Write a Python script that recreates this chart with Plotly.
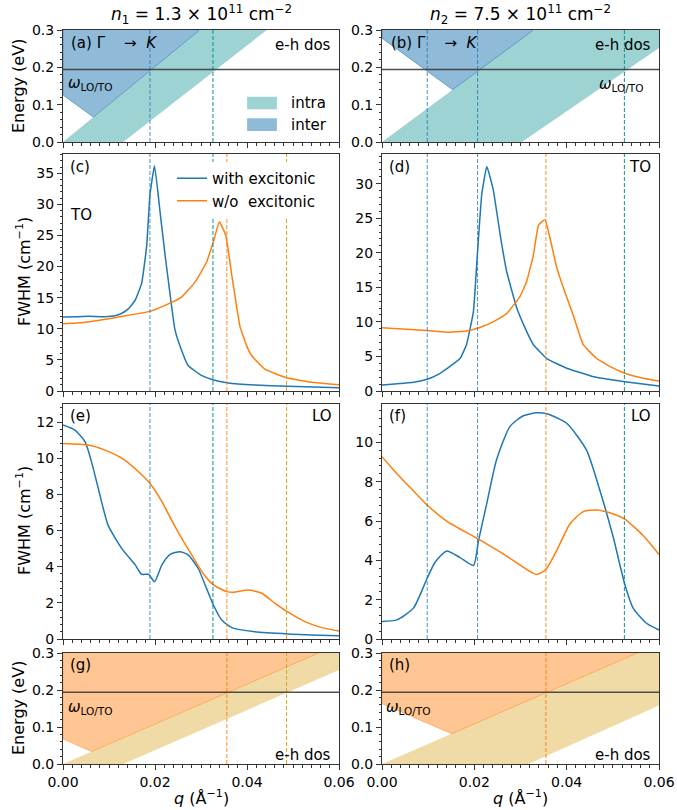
import plotly.graph_objects as go

# ---------------- data ----------------
# TO phonon FWHM, n1 (panel c)
c_with_q = [0, 0.003, 0.0055, 0.009, 0.0113, 0.0128, 0.0142, 0.0157, 0.0171, 0.0182, 0.0189, 0.0199, 0.0211,
            0.0222, 0.0233, 0.0243, 0.0254, 0.0272, 0.0301, 0.0327, 0.0359, 0.0417, 0.0489, 0.06]
c_with_y = [11.9, 11.95, 12.0, 11.95, 12.1, 12.5, 13.2, 14.6, 17.3, 23.4, 31.5, 36.2, 28.8,
            21.8, 15.4, 10.0, 7.3, 4.1, 2.5, 1.77, 1.3, 0.97, 0.75, 0.53]
c_wo_q = [0, 0.0055, 0.0128, 0.0189, 0.0229, 0.0258, 0.0287, 0.0312, 0.0327, 0.034, 0.0354, 0.0367, 0.0385,
          0.0399, 0.041, 0.0439, 0.0483, 0.0533, 0.06]
c_wo_y = [10.8, 11.1, 12.0, 12.8, 14.0, 15.1, 17.5, 20.7, 24.0, 27.2, 25.0, 18.6, 10.3,
          7.3, 5.7, 3.5, 2.2, 1.5, 1.0]

# TO phonon FWHM, n2 (panel d)
d_with_q = [0, 0.0068, 0.0098, 0.0126, 0.014, 0.0169, 0.0183, 0.0198, 0.0207, 0.0216, 0.0227, 0.0241, 0.0256,
            0.027, 0.0292, 0.031, 0.0328, 0.0357, 0.04, 0.0458, 0.0526, 0.06]
d_with_y = [0.87, 1.26, 1.7, 2.56, 3.2, 4.7, 6.7, 11.5, 20.2, 28.4, 32.5, 29.1, 22.6,
            17.3, 12.0, 9.1, 6.7, 4.7, 3.3, 2.07, 1.35, 0.72]
d_wo_q = [0, 0.0097, 0.014, 0.0183, 0.0212, 0.0241, 0.027, 0.0299, 0.0313, 0.0328, 0.0339, 0.0353, 0.0364,
          0.0378, 0.0393, 0.0414, 0.0436, 0.0465, 0.0501, 0.0526, 0.0566, 0.06]
d_wo_y = [9.17, 8.74, 8.5, 8.7, 9.2, 10.0, 11.2, 13.7, 15.8, 19.7, 24.0, 24.8, 22.1,
          18.0, 14.9, 11.0, 6.7, 4.7, 3.3, 2.56, 1.84, 1.45]

# LO phonon FWHM, n1 (panel e)
e_with_q = [0, 0.0026, 0.0048, 0.0062, 0.0077, 0.0098, 0.0128, 0.0157, 0.0171, 0.0186, 0.0199, 0.0215, 0.0233,
            0.0254, 0.0272, 0.0294, 0.0312, 0.0327, 0.0345, 0.0367, 0.0417, 0.049, 0.06]
e_with_y = [11.84, 11.56, 10.9, 9.8, 8.3, 6.3, 5.0, 4.1, 3.58, 3.58, 3.17, 4.1, 4.68,
            4.83, 4.65, 3.9, 2.8, 1.88, 1.05, 0.63, 0.4, 0.28, 0.18]
e_wo_q = [0, 0.0055, 0.0091, 0.0128, 0.0164, 0.0189, 0.0215, 0.0236, 0.0258, 0.028, 0.0302, 0.0327, 0.0356,
          0.037, 0.0403, 0.0432, 0.0461, 0.0485, 0.0526, 0.0562, 0.06]
e_wo_y = [10.82, 10.73, 10.45, 10.0, 9.25, 8.6, 7.6, 6.58, 5.57, 4.65, 3.72, 2.99, 2.62,
          2.58, 2.71, 2.53, 1.97, 1.55, 0.96, 0.63, 0.44]

# LO phonon FWHM, n2 (panel f)
f_with_q = [0, 0.0032, 0.0068, 0.0098, 0.0115, 0.014, 0.0169, 0.0198, 0.0209, 0.0227, 0.0248, 0.0277, 0.0306,
            0.0335, 0.0357, 0.04, 0.0443, 0.0472, 0.0501, 0.0526, 0.0544, 0.0573, 0.06]
f_with_y = [0.89, 0.97, 1.57, 3.1, 3.9, 4.48, 4.14, 3.74, 5.0, 6.9, 9.1, 10.8, 11.35,
            11.5, 11.45, 10.97, 9.6, 7.55, 5.16, 2.77, 1.57, 0.8, 0.46]
f_wo_q = [0, 0.0025, 0.0061, 0.0098, 0.014, 0.0209, 0.027, 0.0313, 0.0335, 0.0355, 0.0378, 0.0407, 0.0436,
          0.0465, 0.0501, 0.0526, 0.0566, 0.06]
f_wo_y = [9.27, 8.6, 7.7, 6.8, 6.0, 5.08, 4.22, 3.54, 3.28, 3.54, 4.48, 5.85, 6.48,
          6.56, 6.36, 6.1, 5.25, 4.3]

# e-h continua (energy in eV vs q)
a_intra_q = [0, 0.0297, 0.0443, 0.0131]
a_intra_E = [0, 0.3, 0.3, 0]
a_inter_q = [0, 0, 0.0066, 0.0297]
a_inter_E = [0.3, 0.126, 0.0667, 0.3]
b_intra_q = [0, 0.0328, 0.06, 0.06, 0.0303]
b_intra_E = [0, 0.3, 0.3, 0.252, 0]
b_inter_q = [0, 0, 0.0153, 0.0328]
b_inter_E = [0.3, 0.278, 0.140, 0.3]
g_intra_q = [0, 0.0556, 0.06, 0.06, 0.0131]
g_intra_E = [0, 0.3, 0.3, 0.254, 0]
g_inter_q = [0, 0, 0.0062, 0.0556]
g_inter_E = [0.3, 0.068, 0.0335, 0.3]
h_intra_q = [0, 0.0553, 0.06, 0.06, 0.0317]
h_intra_E = [0, 0.3, 0.3, 0.158, 0]
h_inter_q = [0, 0, 0.0151, 0.0553]
h_inter_E = [0.3, 0.163, 0.0819, 0.3]

omega_LO_TO = 0.194  # eV

# crossing wavevectors (vertical dashed lines)
left_blue_q = [0.0189]
left_teal_q = [0.0326]
left_orange_q = [0.0356]
left_gold_q = [0.0486]
right_blue_q = [0.0098, 0.0207]
right_teal_q = [0.0525]
right_orange_q = [0.0355]

x_ticks = [0, 0.02, 0.04, 0.06]
x_ticklabels = ["0.00", "0.02", "0.04", "0.06"]

# ---------------- layout helpers ----------------
W, H = 677, 810
FONT = "DejaVu Sans"
def px(x): return x / W
def py(y): return 1 - y / H

XCOL = [(63, 339), (382, 659)]
YROW = [(30, 142), (154, 391), (404, 639), (653, 764)]
YRANGE = {1: [0, 0.3], 2: [0, 0.3], 3: [0, 38.1], 4: [0, 34.3], 5: [0, 13.0], 6: [0, 11.95], 7: [0, 0.3], 8: [0, 0.3]}
YDTICK = {1: 0.1, 2: 0.1, 3: 5, 4: 5, 5: 2, 6: 2, 7: 0.1, 8: 0.1}
YMINOR = {1: 0.02, 2: 0.02, 3: 1, 4: 1, 5: 0.4, 6: 0.4, 7: 0.02, 8: 0.02}

C0 = '#1f77b4'
C1 = '#ff7f0e'
INTRA_A = 'rgba(0,139,139,0.38)'
INTER_A = 'rgba(31,119,180,0.5)'
INTRA_G = 'rgba(218,165,32,0.4)'
INTER_G = 'rgba(255,127,14,0.45)'

fig = go.Figure()
layout = dict(width=W, height=H, margin=dict(l=0, r=0, t=0, b=0, autoexpand=False),
              plot_bgcolor='white', paper_bgcolor='white',
              font=dict(family=FONT, size=15, color='black'))

common = dict(showline=True, linecolor='#333', linewidth=1, mirror=True, ticks='outside', ticklen=5,
              tickwidth=1, tickcolor='#333', showgrid=False, zeroline=False, automargin=False,
              tickfont=dict(family=FONT, size=14, color='black'))

for i in range(1, 9):
    r, c = (i - 1) // 2, (i - 1) % 2
    x0, x1 = XCOL[c]
    yt, yb = YROW[r]
    xa = dict(common, domain=[px(x0), px(x1)], range=[0, 0.06], tickvals=x_ticks, ticktext=x_ticklabels,
              showticklabels=(i >= 7), anchor=f'y{i}',
              minor=dict(ticks='outside', ticklen=2.5, tickwidth=0.8, tickcolor='#333', dtick=0.002, tick0=0))
    ya = dict(common, domain=[py(yb), py(yt)], range=YRANGE[i], dtick=YDTICK[i], tick0=0, anchor=f'x{i}',
              tickformat=('.1f' if YDTICK[i] < 1 else 'd'),
              minor=dict(ticks='outside', ticklen=2.5, tickwidth=0.8, tickcolor='#333', dtick=YMINOR[i], tick0=0))
    layout['xaxis' if i == 1 else f'xaxis{i}'] = xa
    layout['yaxis' if i == 1 else f'yaxis{i}'] = ya

def ax(i):
    return ('x' if i == 1 else f'x{i}'), ('y' if i == 1 else f'y{i}')

def poly(i, q, E, fc, edge=None):
    xa, ya = ax(i)
    fig.add_trace(go.Scatter(x=q, y=E, fill='toself', fillcolor=fc, mode='lines',
                             line=dict(width=(1 if edge else 0), color=(edge or 'rgba(0,0,0,0)')),
                             showlegend=False, hoverinfo='skip', xaxis=xa, yaxis=ya))

poly(1, a_intra_q, a_intra_E, INTRA_A)
poly(1, a_inter_q, a_inter_E, INTER_A, edge='rgba(31,119,180,0.55)')
poly(2, b_intra_q, b_intra_E, INTRA_A)
poly(2, b_inter_q, b_inter_E, INTER_A, edge='rgba(31,119,180,0.55)')
poly(7, g_intra_q, g_intra_E, INTRA_G)
poly(7, g_inter_q, g_inter_E, INTER_G, edge='rgba(255,127,14,0.45)')
poly(8, h_intra_q, h_intra_E, INTRA_G)
poly(8, h_inter_q, h_inter_E, INTER_G, edge='rgba(255,127,14,0.45)')

curves = [(3, c_with_q, c_with_y, c_wo_q, c_wo_y), (4, d_with_q, d_with_y, d_wo_q, d_wo_y),
          (5, e_with_q, e_with_y, e_wo_q, e_wo_y), (6, f_with_q, f_with_y, f_wo_q, f_wo_y)]
for i, qw, yw, qo, yo in curves:
    xa, ya = ax(i)
    sm = 0.35 if i in (3, 4) else 0.6
    fig.add_trace(go.Scatter(x=qw, y=yw, mode='lines', line=dict(color=C0, width=1.5, shape='spline', smoothing=sm),
                             name='with excitonic', showlegend=(i == 3), xaxis=xa, yaxis=ya))
    fig.add_trace(go.Scatter(x=qo, y=yo, mode='lines', line=dict(color=C1, width=1.5, shape='spline', smoothing=sm),
                             name='w/o  excitonic', showlegend=(i == 3), xaxis=xa, yaxis=ya))

shapes = []
def vlines(i, qs, color, width):
    xa, ya = ax(i)
    for q in qs:
        shapes.append(dict(type='line', xref=xa, yref=f'{ya} domain', x0=q, x1=q, y0=0, y1=1,
                           line=dict(color=color, width=width, dash='4px,2px')))

BL = 'rgba(31,119,180,0.8)'
TL = 'rgba(0,139,139,0.95)'
OR = 'rgba(255,127,14,0.6)'
GD = 'rgba(218,165,32,1)'
vlines(1, left_blue_q, BL, 1); vlines(1, left_teal_q, TL, 1)
vlines(2, right_blue_q, BL, 1); vlines(2, right_teal_q, TL, 1)
for i in (3, 5):
    vlines(i, left_blue_q, BL, 1); vlines(i, left_teal_q, TL, 1)
    vlines(i, left_orange_q, OR, 1.5); vlines(i, left_gold_q, GD, 1)
for i in (4, 6):
    vlines(i, right_blue_q, BL, 1); vlines(i, right_orange_q, OR, 1.5)
    vlines(i, right_teal_q, TL, 1)
vlines(7, left_orange_q, OR, 1.5); vlines(7, left_gold_q, GD, 1)
vlines(8, right_orange_q, OR, 1.5)

for i in (1, 2, 7, 8):
    xa, ya = ax(i)
    shapes.append(dict(type='line', xref=f'{xa} domain', yref=ya, x0=0, x1=1, y0=omega_LO_TO, y1=omega_LO_TO,
                       line=dict(color='rgba(60,60,60,0.9)', width=1.6)))

# legend patches for panel (a)
shapes.append(dict(type='rect', xref='x domain', yref='y domain', x0=0.667, x1=0.775, y0=0.292, y1=0.404,
                   fillcolor=INTRA_A, line=dict(width=0)))
shapes.append(dict(type='rect', xref='x domain', yref='y domain', x0=0.667, x1=0.775, y0=0.098, y1=0.212,
                   fillcolor=INTER_A, line=dict(width=0)))

ann = []
def txt(x, y, s, xanchor='left', size=15, angle=0):
    ann.append(dict(x=px(x), y=py(y), xref='paper', yref='paper', text=s, showarrow=False,
                    xanchor=xanchor, yanchor='middle', textangle=angle,
                    font=dict(family=FONT, size=size, color='black')))

omega = '<i>ω</i><sub>LO/TO</sub>'
GK = 'Γ&nbsp;&nbsp;&nbsp;&nbsp;→&nbsp;&nbsp;<i>K</i>'
txt(69, 43, '(a) ' + GK)
txt(333, 45, 'e-h dos', 'right')
txt(66, 83, omega)
txt(289, 103, 'intra')
txt(289, 125, 'inter')
txt(389, 43, '(b) ' + GK)
txt(653, 45, 'e-h dos', 'right')
txt(597, 84, omega)
txt(68, 167, '(c)'); txt(68, 215, 'TO')
txt(387, 167, '(d)'); txt(653, 167, 'TO', 'right')
txt(68, 416, '(e)'); txt(334, 416, 'LO', 'right')
txt(387, 416, '(f)'); txt(653, 416, 'LO', 'right')
txt(68, 665, '(g)'); txt(66, 707, omega); txt(333, 755, 'e-h dos', 'right')
txt(387, 665, '(h)'); txt(384, 707, omega); txt(653, 755, 'e-h dos', 'right')
txt(201, 15, '<i>n</i><sub>1</sub> = 1.3 × 10<sup>11</sup> cm<sup>−2</sup>', 'center', 17)
txt(520, 15, '<i>n</i><sub>2</sub> = 7.5 × 10<sup>11</sup> cm<sup>−2</sup>', 'center', 17)
txt(18, 86, 'Energy (eV)', 'center', 16, -90)
txt(18, 708, 'Energy (eV)', 'center', 16, -90)
txt(23, 272, 'FWHM (cm<sup>−1</sup>)', 'center', 16, -90)
txt(23, 521, 'FWHM (cm<sup>−1</sup>)', 'center', 16, -90)
txt(201, 797, '<i>q</i> (Å<sup>−1</sup>)', 'center', 16)
txt(520, 797, '<i>q</i> (Å<sup>−1</sup>)', 'center', 16)

layout['shapes'] = shapes
layout['annotations'] = ann
layout['legend'] = dict(x=px(172), y=py(162), xanchor='left', yanchor='top', bgcolor='white',
                        borderwidth=0, font=dict(family=FONT, size=15), itemwidth=30, tracegroupgap=0)
fig.update_layout(**layout)
# remove the default 8px body margin so the 677x810 figure fills the window exactly
fig.write_html("out.html", config={'displayModeBar': False},
               post_script="document.body.style.margin='0';")
